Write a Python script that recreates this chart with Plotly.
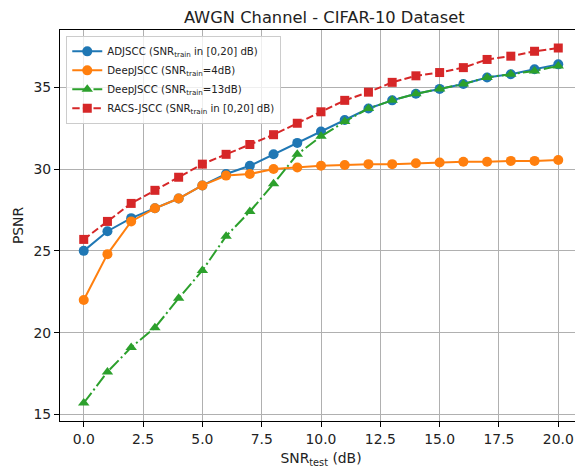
import plotly.graph_objects as go

snr_test = list(range(0, 21))
adjscc = [25.0, 26.2, 27.0, 27.6, 28.2, 29.0, 29.7, 30.2, 30.9, 31.6, 32.3, 33.0, 33.7, 34.2, 34.6, 34.9, 35.2, 35.6, 35.8, 36.1, 36.4]
deepjscc_4 = [22.0, 24.8, 26.8, 27.6, 28.2, 29.0, 29.6, 29.7, 30.0, 30.1, 30.2, 30.25, 30.3, 30.3, 30.35, 30.4, 30.45, 30.45, 30.5, 30.5, 30.55]
deepjscc_13 = [15.7, 17.6, 19.1, 20.3, 22.1, 23.8, 25.9, 27.4, 29.1, 30.9, 32.0, 32.9, 33.7, 34.2, 34.6, 34.9, 35.2, 35.6, 35.8, 36.0, 36.3]
racs_jscc = [25.7, 26.8, 27.9, 28.7, 29.5, 30.3, 30.9, 31.5, 32.1, 32.8, 33.5, 34.2, 34.7, 35.3, 35.7, 35.9, 36.2, 36.7, 36.9, 37.2, 37.4]

names = [
    "ADJSCC (SNR<sub>train</sub> in [0,20] dB)",
    "DeepJSCC (SNR<sub>train</sub>=4dB)",
    "DeepJSCC (SNR<sub>train</sub>=13dB)",
    "RACS-JSCC (SNR<sub>train</sub> in [0,20] dB)",
]
series = [adjscc, deepjscc_4, deepjscc_13, racs_jscc]
colors = ["#1f77b4", "#ff7f0e", "#2ca02c", "#d62728"]
symbols = ["circle", "circle", "triangle-up", "square"]
dashes = ["solid", "solid", "12.8px,3.2px,2px,3.2px", "7.4px,3.2px"]
sizes = [10, 10, 10, 9]

fig = go.Figure()
for n, s, c, sym, d, sz in zip(names, series, colors, symbols, dashes, sizes):
    fig.add_trace(go.Scatter(
        x=snr_test, y=s, name=n, mode="lines+markers",
        line=dict(color=c, width=2, dash=d),
        marker=dict(symbol=sym, size=sz, color=c, line=dict(width=0)),
    ))

axis_common = dict(
    showline=True, linecolor="black", linewidth=1, mirror=True,
    showgrid=True, gridcolor="#b0b0b0", gridwidth=0.8,
    ticks="outside", ticklen=5, tickcolor="black",
    tickfont=dict(size=13.9, color="#222222"), zeroline=False,
)

fig.update_layout(
    width=575, height=462,
    margin=dict(l=52, r=1, t=22, b=49),
    paper_bgcolor="white", plot_bgcolor="white",
    font=dict(family="DejaVu Sans", color="#222222"),
    title=dict(text="AWGN Channel - CIFAR-10 Dataset", xref="container", x=0.55, xanchor="center",
               yref="container", y=0.992, yanchor="top", pad=dict(t=0),
               font=dict(size=16.3)),
    xaxis=dict(range=[-1, 21], dtick=2.5, tick0=0, tickformat=".1f",
               title=dict(text="SNR<sub>test</sub> (dB)", font=dict(size=13.9), standoff=7),
               **axis_common),
    yaxis=dict(range=[14.6, 38.5], dtick=5, tick0=15,
               title=dict(text="PSNR", font=dict(size=13.9), standoff=6),
               **axis_common),
    legend=dict(x=0.012, y=0.985, xanchor="left", yanchor="top",
                bgcolor="rgba(255,255,255,0.8)", bordercolor="#cccccc", borderwidth=1,
                font=dict(size=10.2), tracegroupgap=0, itemwidth=30),
)

fig.write_html("out.html")
